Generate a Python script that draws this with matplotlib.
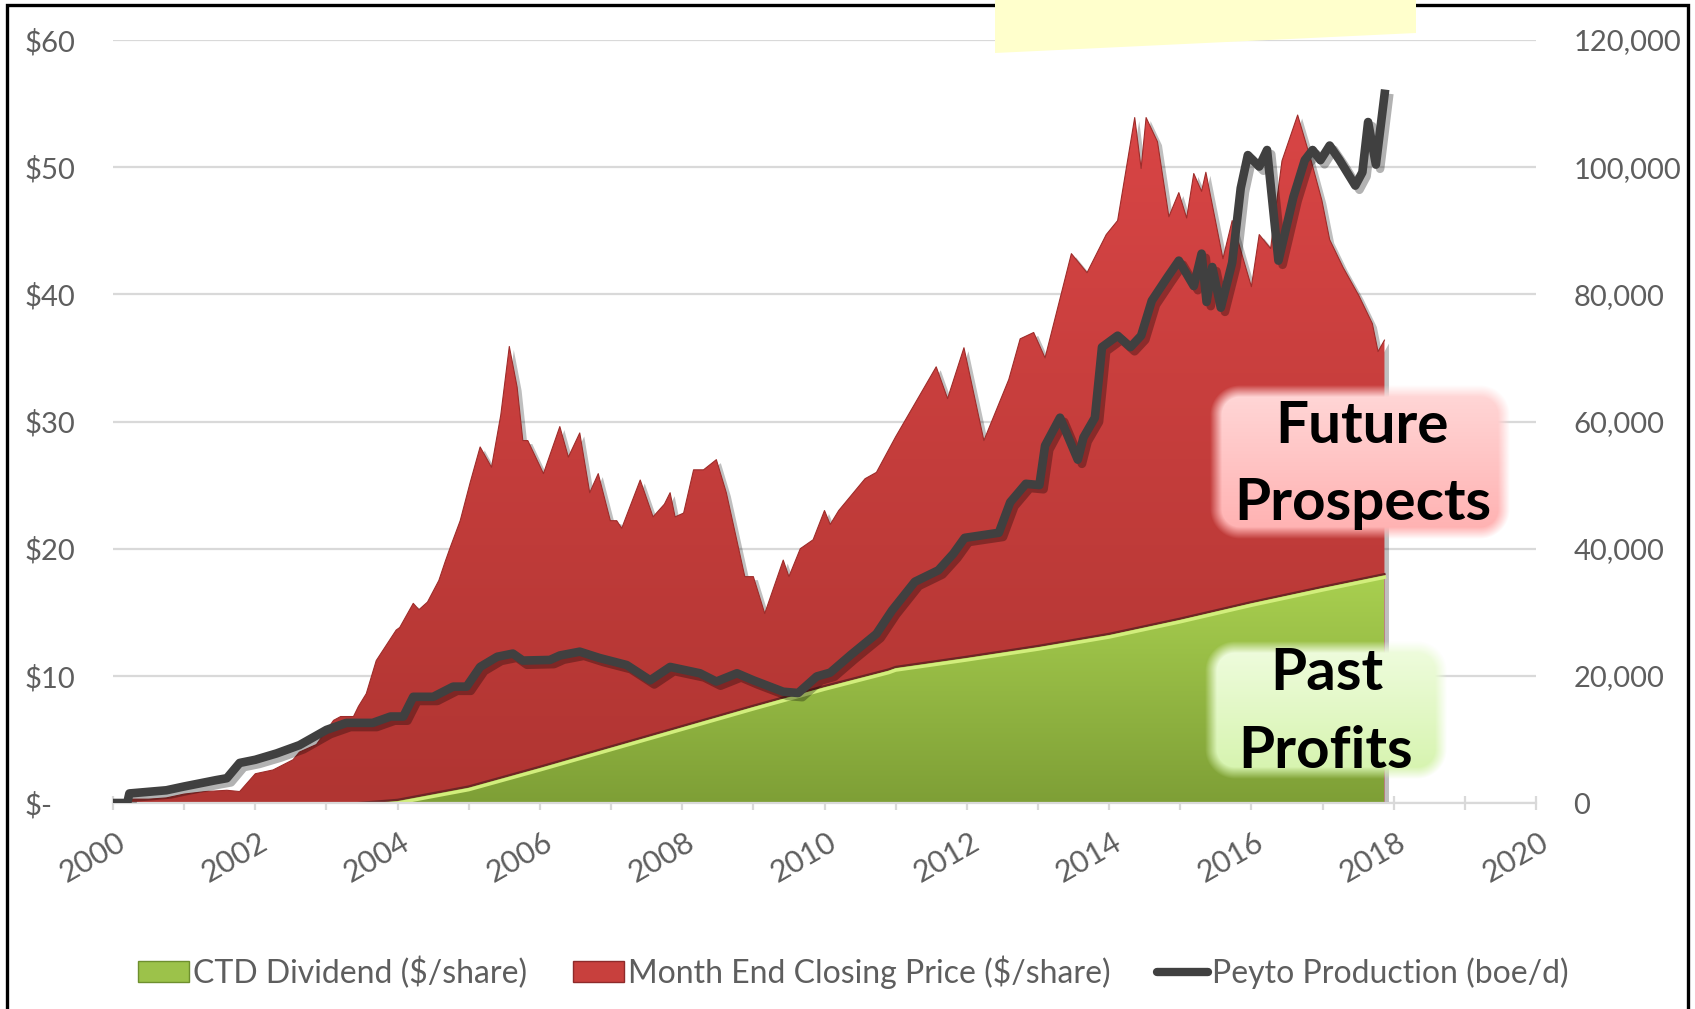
import numpy as np
import matplotlib
matplotlib.use("Agg")
import matplotlib.pyplot as plt
import matplotlib.ticker as mticker
from matplotlib import patheffects as pe
from matplotlib.patches import Rectangle, Polygon, Patch
from matplotlib.lines import Line2D
from matplotlib.colors import LinearSegmentedColormap, to_rgb
from matplotlib.transforms import IdentityTransform, ScaledTranslation

# --- data ---
price_dates = [2000.00, 2000.25, 2000.50, 2000.75, 2001.00, 2001.30, 2001.60, 2001.78,
               2002.00, 2002.25, 2002.53, 2002.62, 2002.86, 2003.10, 2003.20, 2003.38,
               2003.45, 2003.56, 2003.70, 2003.98, 2004.03, 2004.22, 2004.30, 2004.42,
               2004.58, 2004.67, 2004.74, 2004.88, 2005.02, 2005.16, 2005.32, 2005.45,
               2005.57, 2005.68, 2005.76, 2005.83, 2006.05, 2006.28, 2006.40, 2006.56,
               2006.70, 2006.82, 2006.99, 2007.08, 2007.15, 2007.41, 2007.59, 2007.75,
               2007.83, 2007.90, 2008.02, 2008.16, 2008.30, 2008.48, 2008.62, 2008.88,
               2009.00, 2009.16, 2009.42, 2009.50, 2009.66, 2009.84, 2010.00, 2010.08,
               2010.20, 2010.57, 2010.73, 2011.00, 2011.27, 2011.57, 2011.73, 2011.96,
               2012.24, 2012.59, 2012.75, 2012.94, 2013.10, 2013.47, 2013.69, 2013.96,
               2014.12, 2014.36, 2014.45, 2014.52, 2014.68, 2014.84, 2014.98, 2015.09,
               2015.19, 2015.30, 2015.36, 2015.60, 2015.73, 2015.90, 2016.00, 2016.11,
               2016.27, 2016.43, 2016.65, 2016.84, 2016.99, 2017.10, 2017.29, 2017.51,
               2017.70, 2017.78, 2017.87]
price_values = [0.2, 0.3, 0.3, 0.4, 0.7, 0.9, 1.0, 0.9,
                2.3, 2.6, 3.4, 4.0, 4.6, 6.5, 6.8, 6.8,
                7.6, 8.6, 11.2, 13.6, 13.8, 15.7, 15.2, 15.8,
                17.5, 19.0, 20.1, 22.2, 25.2, 28.0, 26.4, 30.5,
                35.9, 32.7, 28.5, 28.5, 25.9, 29.6, 27.2, 29.1,
                24.4, 25.9, 22.2, 22.2, 21.6, 25.4, 22.5, 23.5,
                24.4, 22.5, 22.8, 26.2, 26.2, 27.0, 24.4, 17.8,
                17.8, 14.9, 19.1, 17.8, 20.0, 20.7, 23.0, 21.9,
                23.0, 25.5, 26.0, 28.8, 31.4, 34.3, 31.8, 35.8,
                28.5, 33.3, 36.5, 37.0, 35.0, 43.2, 41.7, 44.7,
                45.8, 53.9, 49.9, 53.9, 52.0, 46.1, 48.0, 46.0,
                49.5, 48.1, 49.6, 42.8, 45.8, 42.5, 40.6, 44.7,
                43.6, 50.5, 54.1, 50.5, 47.4, 44.3, 42.1, 39.9,
                37.7, 35.5, 36.4]

div_dates = [2003.45, 2004.0, 2005.0, 2006.0, 2007.0, 2008.0, 2009.0, 2010.0, 2010.9,
             2011.0, 2012.0, 2013.0, 2014.0, 2015.0, 2016.0, 2017.0, 2017.87]
div_values = [0.0, 0.25, 1.3, 2.85, 4.45, 6.05, 7.65, 9.2, 10.5,
              10.7, 11.5, 12.35, 13.3, 14.5, 15.8, 17.0, 18.0]

prod_dates = [2000.00, 2000.20, 2000.23, 2000.75, 2001.00, 2001.45, 2001.60, 2001.78,
              2002.00, 2002.30, 2002.62, 2003.00, 2003.28, 2003.65, 2003.90, 2004.08,
              2004.22, 2004.50, 2004.78, 2004.97, 2005.16, 2005.40, 2005.62, 2005.76,
              2006.14, 2006.28, 2006.56, 2006.84, 2007.22, 2007.55, 2007.83, 2008.25,
              2008.48, 2008.77, 2009.00, 2009.42, 2009.63, 2009.89, 2010.08, 2010.37,
              2010.73, 2010.95, 2011.27, 2011.60, 2011.81, 2011.97, 2012.45, 2012.61,
              2012.83, 2013.02, 2013.10, 2013.31, 2013.56, 2013.64, 2013.80, 2013.90,
              2014.12, 2014.30, 2014.45, 2014.60, 2014.82, 2014.98, 2015.19, 2015.30,
              2015.37, 2015.45, 2015.57, 2015.73, 2015.85, 2015.95, 2016.11, 2016.22,
              2016.38, 2016.59, 2016.75, 2016.86, 2016.97, 2017.10, 2017.24, 2017.46,
              2017.56, 2017.64, 2017.75, 2017.88]
prod_values = [0, 0, 1500, 2000, 2600, 3600, 3900, 6300,
               6800, 7800, 9100, 11500, 12600, 12600, 13600, 13600,
               16700, 16700, 18300, 18300, 21400, 23000, 23500, 22400,
               22500, 23200, 23800, 22800, 21700, 19300, 21400, 20400,
               19100, 20400, 19300, 17500, 17300, 19900, 20500, 23300,
               26600, 30300, 34800, 36600, 39200, 41700, 42500, 47300,
               50200, 50000, 56200, 60600, 54000, 57500, 60600, 71700,
               73500, 71700, 73500, 79000, 82700, 85300, 81300, 86400,
               78800, 84300, 77900, 85000, 96700, 101900, 100100, 102700,
               85300, 95300, 101100, 102700, 101100, 103400, 101100, 97100,
               99200, 107100, 100400, 112200]

year_ticks = list(range(2000, 2021, 2))
price_ticks = [0, 10, 20, 30, 40, 50, 60]
prod_ticks = [0, 20000, 40000, 60000, 80000, 100000, 120000]
legend_labels = ["CTD Dividend ($/share)", "Month End Closing Price ($/share)",
                 "Peyto Production (boe/d)"]

W, H = 1695, 1009
GRID = "#D9D9D9"
LABEL = "#5E5E5E"
plt.rcParams["font.family"] = ["Lato", "DejaVu Sans"]


def gradient_area(ax, x, lo, hi, top, bottom, zorder):
    poly = ax.fill_between(x, lo, hi, facecolor="none", lw=0, zorder=zorder)
    cmap = LinearSegmentedColormap.from_list("g", [bottom, top])
    grad = np.linspace(0, 1, 256).reshape(-1, 1)
    im = ax.imshow(grad, cmap=cmap, aspect="auto", origin="lower",
                   extent=[x[0], x[-1], 0, max(hi)], zorder=zorder,
                   interpolation="bilinear")
    im.set_clip_path(poly.get_paths()[0], ax.transData)
    return poly


def soft_box(w, h, r, blur, top, bottom):
    yy, xx = np.mgrid[0:h, 0:w] + 0.5
    hw, hh = w / 2 - blur, h / 2 - blur
    qx = np.abs(xx - w / 2) - (hw - r)
    qy = np.abs(yy - h / 2) - (hh - r)
    d = (np.hypot(np.maximum(qx, 0), np.maximum(qy, 0))
         + np.minimum(np.maximum(qx, qy), 0) - r)
    alpha = np.clip(0.5 - d / blur, 0, 1)
    t = (yy / h)[..., None]
    rgb = (1 - t) * np.array(to_rgb(top)) + t * np.array(to_rgb(bottom))
    return np.dstack([rgb, alpha])


fig = plt.figure(figsize=(W / 100, H / 100), dpi=100)
ax = fig.add_axes([113 / W, 1 - 803 / H, (1536 - 113) / W, (803 - 40) / H])
ax2 = ax.twinx()

# price area with soft drop shadow
shadow_tr = ax.transData + ScaledTranslation(4 / 100, -3 / 100, fig.dpi_scale_trans)
ax.fill_between(price_dates, 0, price_values, color="black", alpha=0.25,
                lw=0, transform=shadow_tr, zorder=1)
gradient_area(ax, price_dates, 0, price_values, "#D84545", "#B03532", 2)
ax.plot(price_dates, price_values, color="#9E2C2A", lw=0.8, zorder=3)

# cumulative dividend area
gradient_area(ax, div_dates, 0, div_values, "#A9D050", "#7E9F36", 4)
ax.plot(div_dates, div_values, color="#6E2525", lw=1.6, zorder=5)
ax.plot(div_dates, np.array(div_values) - 0.25, color="#D2EE7C", lw=2.5, zorder=5)

ax.set_xlim(2000, 2020)
ax.set_ylim(0, 60)
ax.set_xticks(year_ticks)
ax.xaxis.set_minor_locator(mticker.MultipleLocator(1))
ax.set_yticks(price_ticks)
ax.yaxis.set_major_formatter(mticker.FuncFormatter(
    lambda v, p: "$-" if v == 0 else f"${v:.0f}"))
ax.grid(axis="y", color=GRID, lw=1.6, zorder=0)
ax.set_axisbelow(True)
for s in ["top", "left", "right"]:
    ax.spines[s].set_visible(False)
ax.spines["bottom"].set_color(GRID)
ax.spines["bottom"].set_linewidth(1.6)
ax.spines["bottom"].set_zorder(6)
ax.tick_params(axis="x", which="both", direction="inout", length=10,
               color=GRID, width=1.6, labelsize=22, labelcolor=LABEL, pad=13)
ax.tick_params(axis="y", length=0, labelsize=21, labelcolor=LABEL, pad=64)
for lbl in ax.get_xticklabels():
    lbl.set_rotation(30)
    lbl.set_ha("right")
    lbl.set_rotation_mode("anchor")
    lbl.set_transform(lbl.get_transform()
                      + ScaledTranslation(3 / 100, 0, fig.dpi_scale_trans))
for lbl in ax.get_yticklabels():
    lbl.set_ha("left")

# production line on the right axis
ax2.plot(prod_dates, prod_values, color="#404040", lw=6.2,
         solid_joinstyle="round", solid_capstyle="butt",
         path_effects=[pe.SimpleLineShadow(offset=(3, -3), shadow_color="black",
                                           alpha=0.3), pe.Normal()])
ax2.set_ylim(0, 120000)
ax2.set_yticks(prod_ticks)
ax2.yaxis.set_major_formatter(mticker.FuncFormatter(lambda v, p: f"{v:,.0f}"))
ax2.tick_params(axis="y", length=0, labelsize=21, labelcolor=LABEL, pad=27)
for s in ax2.spines.values():
    s.set_visible(False)
ax.set_zorder(1)
ax2.set_zorder(2)
ax.patch.set_visible(False)

# annotation boxes
fig.figimage(soft_box(312, 166, 24, 12, "#FFDADA", "#FFAEAE"),
             xo=1204, yo=H - 545, origin="upper", zorder=5)
fig.figimage(soft_box(254, 150, 24, 12, "#F1FDE2", "#D4F3AA"),
             xo=1199, yo=H - 785, origin="upper", zorder=5)
box_font = dict(fontsize=42, fontweight="bold", color="black", ha="center",
                va="baseline", transform=IdentityTransform(), zorder=6)
fig.text(1362, H - 443, "Future", **box_font)
fig.text(1363, H - 520, "Prospects", **box_font)
fig.text(1327, H - 690, "Past", **box_font)
fig.text(1326, H - 768, "Profits", **box_font)

# legend
handles = [Patch(facecolor="#9CC24A", edgecolor="#6E8F2E", lw=1),
           Patch(facecolor="#C8403D", edgecolor="#8E2A2A", lw=1),
           Line2D([], [], color="#404040", lw=6, solid_capstyle="round")]
fig.legend(handles, legend_labels, loc="center", bbox_to_anchor=(853 / W, 1 - 972 / H),
           ncol=3, frameon=False, fontsize=23, labelcolor=LABEL,
           handlelength=1.6, handleheight=0.6, handletextpad=0.12,
           columnspacing=1.45)

# frame and sticky note
fig.add_artist(Rectangle((7, -10), 1681, H - 5 + 10, transform=IdentityTransform(),
                         fill=False, edgecolor="black", lw=2.4, zorder=8))
fig.add_artist(Polygon([(995, H + 2), (1416, H + 2), (1416, H - 33), (995, H - 53)],
                       closed=True, transform=IdentityTransform(),
                       facecolor="#FFFFCC", edgecolor="none", zorder=9))

fig.savefig("out.png", dpi=100)
